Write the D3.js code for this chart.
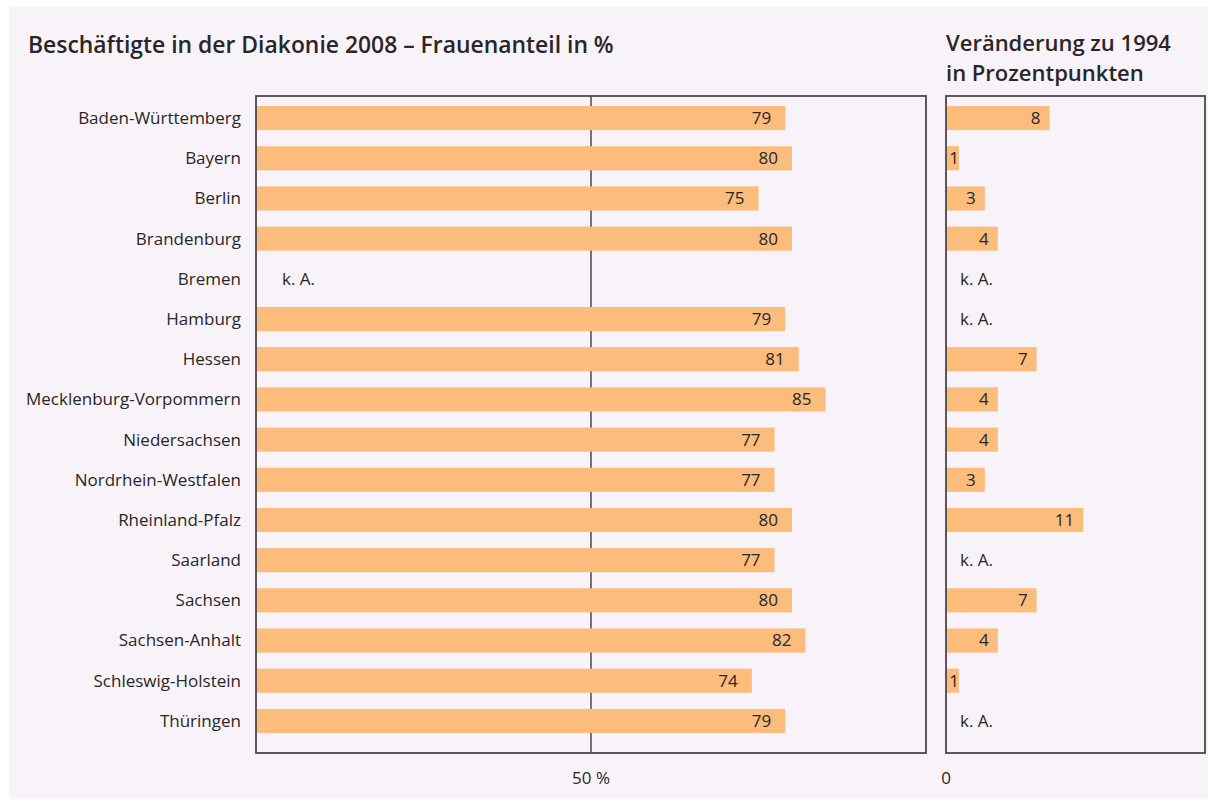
<!DOCTYPE html>
<html>
<head>
<meta charset="utf-8">
<script src="https://cdn.jsdelivr.net/npm/d3@7"></script>
<style>
  html, body { margin: 0; padding: 0; background: #ffffff; }
  svg { display: block; }
  text { font-family: "Open Sans", "DejaVu Sans", sans-serif; fill: #2a2627; }
</style>
</head>
<body>
<svg id="chart" width="1208" height="800"></svg>
<script>
const categories = ["Baden-Württemberg","Bayern","Berlin","Brandenburg","Bremen","Hamburg","Hessen","Mecklenburg-Vorpommern","Niedersachsen","Nordrhein-Westfalen","Rheinland-Pfalz","Saarland","Sachsen","Sachsen-Anhalt","Schleswig-Holstein","Thüringen"];
const shareWomen2008 = [79,80,75,80,null,79,81,85,77.4,77.4,80,77.4,80,82,74,79];
const change1994 = [8,1,3,4,null,null,7,4,4,3,10.6,null,7,4,1,null];
const leftTicks = [50];
const rightTicks = [0];
const titleLeft = "Beschäftigte in der Diakonie 2008 – Frauenanteil in %";
const titleRight = ["Veränderung zu 1994", "in Prozentpunkten"];
const naLabel = "k. A.";

const svg = d3.select("#chart");
const barColor = "#fbbc7c";
const frameColor = "#4b4749";
const fmt = d3.format(".0f");

svg.append("rect").attr("x", 9).attr("y", 7).attr("width", 1199).attr("height", 792).attr("fill", "#f7f3f9");

const y = d3.scaleBand().domain(categories).range([98, 741]).paddingInner(0.4).paddingOuter(0.2);
const xL = d3.scaleLinear().domain([0, 100]).range([256, 926]);
const xR = d3.scaleLinear().domain([0, 20]).range([946, 1205]);
const frameTop = 96, frameBottom = 753;

// titles
svg.append("text").attr("x", 28).attr("y", 53).attr("font-size", 22.9).attr("font-weight", 600).text(titleLeft);
svg.append("text").attr("x", 946).attr("y", 51).attr("font-size", 22).attr("font-weight", 600)
  .selectAll("tspan").data(titleRight).join("tspan").attr("x", 946).attr("dy", (d, i) => i ? 30 : 0).text(d => d);

// category labels
svg.append("g").selectAll("text").data(categories).join("text")
  .attr("x", 241).attr("y", d => y(d) + y.bandwidth() / 2).attr("dy", "0.35em")
  .attr("text-anchor", "end").attr("font-size", 17).text(d => d);

// left panel
const gL = svg.append("g");
gL.selectAll("line.tick").data(leftTicks).join("line")
  .attr("x1", d => xL(d)).attr("x2", d => xL(d)).attr("y1", frameTop).attr("y2", frameBottom)
  .attr("stroke", frameColor).attr("stroke-width", 1.5);
const dataL = categories.map((c, i) => ({ c, v: shareWomen2008[i] }));
gL.selectAll("rect.bar").data(dataL.filter(d => d.v != null)).join("rect")
  .attr("x", xL(0)).attr("y", d => y(d.c)).attr("width", d => xL(d.v) - xL(0)).attr("height", y.bandwidth())
  .attr("fill", barColor);
gL.selectAll("text.val").data(dataL).join("text")
  .attr("x", d => d.v != null ? xL(d.v) - 14 : xL(0) + 26)
  .attr("y", d => y(d.c) + y.bandwidth() / 2).attr("dy", "0.35em")
  .attr("text-anchor", d => d.v != null ? "end" : "start").attr("font-size", 17)
  .text(d => d.v != null ? fmt(d.v) : naLabel);
gL.append("rect").attr("x", xL(0)).attr("y", frameTop).attr("width", xL(100) - xL(0)).attr("height", frameBottom - frameTop)
  .attr("fill", "none").attr("stroke", frameColor).attr("stroke-width", 1.8);
gL.selectAll("text.tl").data(leftTicks).join("text")
  .attr("x", d => xL(d)).attr("y", 784).attr("text-anchor", "middle").attr("font-size", 17).text(d => d + " %");

// right panel
const gR = svg.append("g");
const dataR = categories.map((c, i) => ({ c, v: change1994[i] }));
gR.selectAll("rect.bar").data(dataR.filter(d => d.v != null)).join("rect")
  .attr("x", xR(0)).attr("y", d => y(d.c)).attr("width", d => xR(d.v) - xR(0)).attr("height", y.bandwidth())
  .attr("fill", barColor);
gR.selectAll("text.val").data(dataR).join("text")
  .attr("x", d => d.v != null ? Math.max(xR(d.v) - 9, xR(0) + 13) : xR(0) + 14)
  .attr("y", d => y(d.c) + y.bandwidth() / 2).attr("dy", "0.35em")
  .attr("text-anchor", d => d.v != null ? "end" : "start").attr("font-size", 17)
  .text(d => d.v != null ? fmt(d.v) : naLabel);
gR.append("rect").attr("x", xR(0)).attr("y", frameTop).attr("width", xR(20) - xR(0)).attr("height", frameBottom - frameTop)
  .attr("fill", "none").attr("stroke", frameColor).attr("stroke-width", 1.8);
gR.selectAll("text.tl").data(rightTicks).join("text")
  .attr("x", d => xR(d)).attr("y", 784).attr("text-anchor", "middle").attr("font-size", 17).text(d => d);
</script>
</body>
</html>
